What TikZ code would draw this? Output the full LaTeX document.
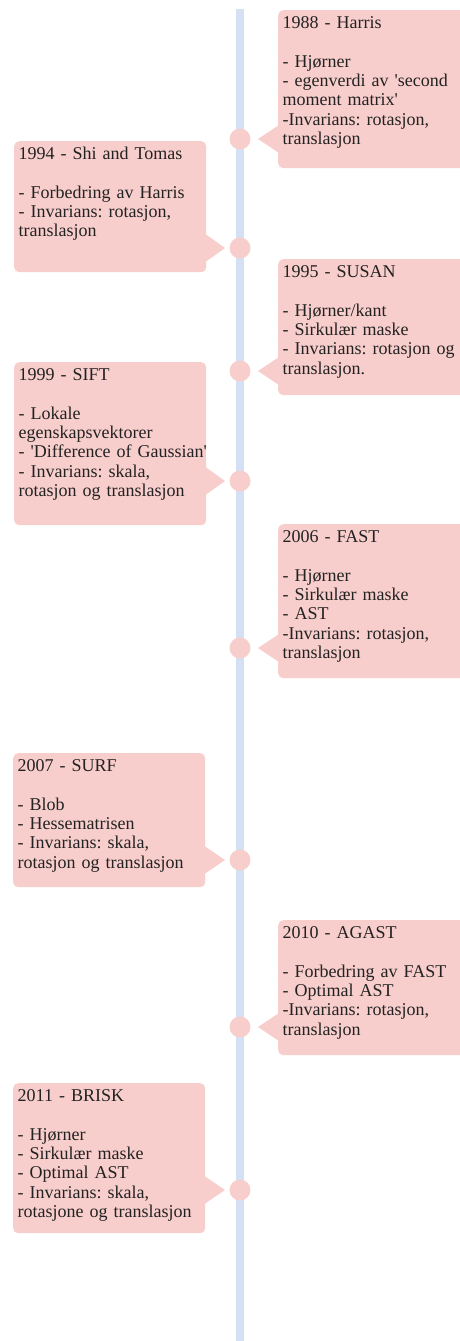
\documentclass[tikz,border=0pt]{standalone}
\usepackage{fontspec}
\setmainfont{Liberation Serif}
\usetikzlibrary{positioning}
\definecolor{rosa}{HTML}{F8CECC}
\definecolor{lysebla}{HTML}{D4E1F5}
\definecolor{tekstfarge}{HTML}{222222}
\hyphenpenalty=10000
\frenchspacing

\begin{document}
\begin{tikzpicture}[x=1pt, y=-1pt,
        hendelse/.style={fill=rosa, rounded corners=5pt, anchor=north west, inner xsep=4.5pt, inner ysep=5pt,
            text width=183pt, align=left, text height=13pt, text=tekstfarge,
            font=\fontsize{18}{19.4}\selectfont},
        prikk/.style={circle, fill=rosa, minimum size=21pt, inner sep=0pt},
        tidslinje/.style={lysebla, line width=8pt}]
        \useasboundingbox (0,0) rectangle (460,1341);
        \coordinate (topp) at (240,9);
        \coordinate (bunn) at (240,1341);
        \draw[tidslinje] (topp) -- (bunn);

        \node[prikk] (p1988) at (240,139) {};
        \node[prikk] (p1994) at (240,248) {};
        \node[prikk] (p1995) at (240,371) {};
        \node[prikk] (p1999) at (240,481) {};
        \node[prikk] (p2006) at (240,648) {};
        \node[prikk] (p2007) at (240,860) {};
        \node[prikk] (p2010) at (240,1027) {};
        \node[prikk] (p2011) at (240,1190) {};

        \node[hendelse, text depth=135pt] (harris) at (278,10) {1988 - Harris\\[19.4pt]- Hjørner\\- egenverdi av \textquotesingle second\\moment matrix\textquotesingle\\-Invarians: rotasjon,\\translasjon};
        \node[hendelse, text depth=108pt] (shi) at (14,141) {1994 - Shi and Tomas\\[19.4pt]- Forbedring av Harris\\- Invarians: rotasjon,\\translasjon};
        \node[hendelse, text depth=113pt] (susan) at (278,259) {1995 - SUSAN\\[19.4pt]- Hjørner/kant\\- Sirkulær maske\\- Invarians: rotasjon og\\translasjon.};
        \node[hendelse, text depth=140pt] (sift) at (14,362) {1999 - SIFT\\[19.4pt]- Lokale\\egenskapsvektorer\\\mbox{- \textquotesingle Difference of Gaussian\textquotesingle}\\- Invarians: skala,\\rotasjon og translasjon};
        \node[hendelse, text depth=131pt] (fast) at (278,524) {2006 - FAST\\[19.4pt]- Hjørner\\- Sirkulær maske\\- AST\\-Invarians: rotasjon,\\translasjon};
        \node[hendelse, text depth=111pt] (surf) at (13,753) {2007 - SURF\\[19.4pt]- Blob\\- Hessematrisen\\- Invarians: skala,\\rotasjon og translasjon};
        \node[hendelse, text depth=112pt] (agast) at (278,920) {2010 - AGAST\\[19.4pt]- Forbedring av FAST\\- Optimal AST\\-Invarians: rotasjon,\\translasjon};
        \node[hendelse, text depth=127pt] (brisk) at (13,1083) {2011 - BRISK\\[19.4pt]- Hjørner\\- Sirkulær maske\\- Optimal AST\\- Invarians: skala,\\rotasjone og translasjon};

        % spisser mot tidslinjen
        \fill[rosa] ([xshift=1pt,yshift=14pt]harris.west |- p1988) -- ([xshift=18pt]p1988.center) -- ([xshift=1pt,yshift=-14pt]harris.west |- p1988) -- cycle;
        \fill[rosa] ([xshift=-1pt,yshift=14pt]shi.east |- p1994) -- ([xshift=-15pt]p1994.center) -- ([xshift=-1pt,yshift=-14pt]shi.east |- p1994) -- cycle;
        \fill[rosa] ([xshift=1pt,yshift=14pt]susan.west |- p1995) -- ([xshift=18pt]p1995.center) -- ([xshift=1pt,yshift=-14pt]susan.west |- p1995) -- cycle;
        \fill[rosa] ([xshift=-1pt,yshift=14pt]sift.east |- p1999) -- ([xshift=-15pt]p1999.center) -- ([xshift=-1pt,yshift=-14pt]sift.east |- p1999) -- cycle;
        \fill[rosa] ([xshift=1pt,yshift=14pt]fast.west |- p2006) -- ([xshift=18pt]p2006.center) -- ([xshift=1pt,yshift=-14pt]fast.west |- p2006) -- cycle;
        \fill[rosa] ([xshift=-1pt,yshift=14pt]surf.east |- p2007) -- ([xshift=-15pt]p2007.center) -- ([xshift=-1pt,yshift=-14pt]surf.east |- p2007) -- cycle;
        \fill[rosa] ([xshift=1pt,yshift=14pt]agast.west |- p2010) -- ([xshift=18pt]p2010.center) -- ([xshift=1pt,yshift=-14pt]agast.west |- p2010) -- cycle;
        \fill[rosa] ([xshift=-1pt,yshift=14pt]brisk.east |- p2011) -- ([xshift=-15pt]p2011.center) -- ([xshift=-1pt,yshift=-14pt]brisk.east |- p2011) -- cycle;
    \end{tikzpicture}
\end{document}
